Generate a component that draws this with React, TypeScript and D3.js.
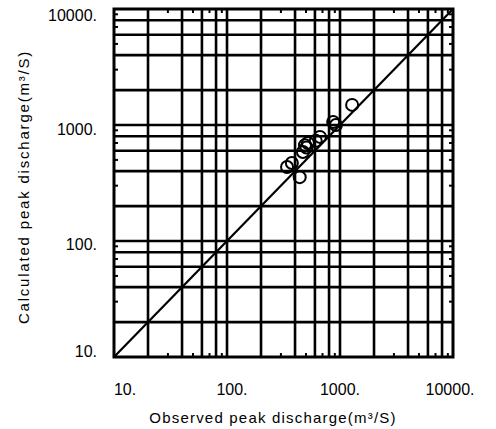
import React from "react";
import * as d3 from "d3";

const gridValues = [20, 40, 60, 80, 100, 200, 400, 600, 800, 1000, 2000, 4000, 6000, 8000];
const minorTicks = [30, 50, 70, 90, 300, 500, 700, 900, 3000, 5000, 7000, 9000];
const tickValues = [10, 100, 1000, 10000];
const tickLabels = ["10.", "100.", "1000.", "10000."];
const observed = [1280, 870, 920, 665, 610, 490, 470, 520, 505, 375, 340, 440];
const calculated = [1490, 1060, 1000, 790, 730, 670, 585, 700, 640, 470, 435, 355];
const xTitle = "Observed peak discharge(m³/S)";
const yTitle = "Calculated peak discharge(m³/S)";

export default function App() {
  const left = 114, right = 453, top = 9, bottom = 357;
  const x = d3.scaleLog().domain([10, 10000]).range([left, right]);
  const y = d3.scaleLog().domain([10, 10000]).range([bottom, top]);
  const font = "'Liberation Sans', Arial, sans-serif";
  const sw = 2.6;
  return (
    <svg width={496} height={429} style={{ position: "absolute", left: 0, top: 0, background: "#fff" }}>
      {gridValues.map((v) => (
        <g key={"g" + v}>
          <line x1={x(v)} x2={x(v)} y1={top} y2={bottom} stroke="#000" strokeWidth={sw} />
          <line x1={left} x2={right} y1={y(v)} y2={y(v)} stroke="#000" strokeWidth={sw} />
        </g>
      ))}
      {minorTicks.map((v) => (
        <g key={"m" + v} stroke="#000" strokeWidth={2}>
          <line x1={x(v)} x2={x(v)} y1={top} y2={top + 4} />
          <line x1={x(v)} x2={x(v)} y1={bottom} y2={bottom - 4} />
          <line x1={left} x2={left + 4} y1={y(v)} y2={y(v)} />
          <line x1={right} x2={right - 4} y1={y(v)} y2={y(v)} />
        </g>
      ))}
      <rect x={left} y={top} width={right - left} height={bottom - top} fill="none" stroke="#000" strokeWidth={3} />
      <line x1={x(10)} y1={y(10)} x2={x(10000)} y2={y(10000)} stroke="#000" strokeWidth={2.2} />
      {observed.map((o, i) => (
        <circle key={"c" + i} cx={x(o)} cy={y(calculated[i])} r={6} fill="none" stroke="#000" strokeWidth={2} />
      ))}
      {tickValues.map((v, i) => (
        <text key={"xt" + v} x={x(v) + [11, 5, 0, -3][i]} y={395} textAnchor="middle" fontFamily={font} fontSize={16} fill="#000">
          {tickLabels[i]}
        </text>
      ))}
      {tickValues.map((v, i) => (
        <text key={"yt" + v} x={97} y={[357, 250, 135, 21][i]} textAnchor="end" fontFamily={font} fontSize={16} fill="#000">
          {tickLabels[i]}
        </text>
      ))}
      <text x={273} y={423} textAnchor="middle" fontFamily={font} fontSize={15} letterSpacing={1.2} fill="#000">
        {xTitle}
      </text>
      <text transform="translate(29,187) rotate(-90)" textAnchor="middle" fontFamily={font} fontSize={15} letterSpacing={1.8} fill="#000">
        {yTitle}
      </text>
    </svg>
  );
}
